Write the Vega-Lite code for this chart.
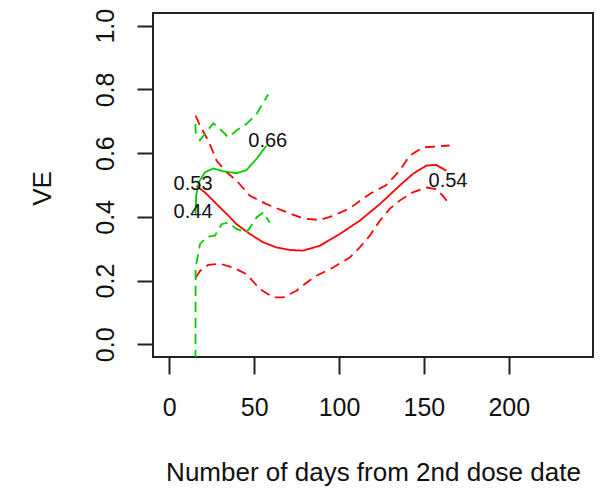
{
  "$schema": "https://vega.github.io/schema/vega-lite/v6.json",
  "width": 440,
  "height": 344,
  "autosize": {"type": "none"},
  "padding": {"left": 153, "top": 13, "right": 7, "bottom": 131},
  "background": "white",
  "config": {
    "view": {"stroke": "#222", "strokeWidth": 2},
    "font": "Liberation Sans"
  },
  "datasets": {
    "curves": [
      {"series": "red_fit", "cohort": "red", "type": "fit", "x": 16.0, "y": 0.497},
      {"series": "red_fit", "cohort": "red", "type": "fit", "x": 21, "y": 0.477},
      {"series": "red_fit", "cohort": "red", "type": "fit", "x": 27.9, "y": 0.440},
      {"series": "red_fit", "cohort": "red", "type": "fit", "x": 33.8, "y": 0.409},
      {"series": "red_fit", "cohort": "red", "type": "fit", "x": 39.6, "y": 0.377},
      {"series": "red_fit", "cohort": "red", "type": "fit", "x": 47.5, "y": 0.346},
      {"series": "red_fit", "cohort": "red", "type": "fit", "x": 55.3, "y": 0.320},
      {"series": "red_fit", "cohort": "red", "type": "fit", "x": 63.2, "y": 0.304},
      {"series": "red_fit", "cohort": "red", "type": "fit", "x": 71, "y": 0.296},
      {"series": "red_fit", "cohort": "red", "type": "fit", "x": 78.8, "y": 0.294},
      {"series": "red_fit", "cohort": "red", "type": "fit", "x": 88.6, "y": 0.309},
      {"series": "red_fit", "cohort": "red", "type": "fit", "x": 100.4, "y": 0.346},
      {"series": "red_fit", "cohort": "red", "type": "fit", "x": 112.2, "y": 0.388},
      {"series": "red_fit", "cohort": "red", "type": "fit", "x": 124, "y": 0.440},
      {"series": "red_fit", "cohort": "red", "type": "fit", "x": 135.7, "y": 0.498},
      {"series": "red_fit", "cohort": "red", "type": "fit", "x": 143.5, "y": 0.535},
      {"series": "red_fit", "cohort": "red", "type": "fit", "x": 151.4, "y": 0.561},
      {"series": "red_fit", "cohort": "red", "type": "fit", "x": 157.3, "y": 0.563},
      {"series": "red_fit", "cohort": "red", "type": "fit", "x": 163.2, "y": 0.545},
      {"series": "red_hi", "cohort": "red", "type": "ci", "x": 15.5, "y": 0.718},
      {"series": "red_hi", "cohort": "red", "type": "ci", "x": 18.1, "y": 0.686},
      {"series": "red_hi", "cohort": "red", "type": "ci", "x": 23, "y": 0.639},
      {"series": "red_hi", "cohort": "red", "type": "ci", "x": 27.9, "y": 0.576},
      {"series": "red_hi", "cohort": "red", "type": "ci", "x": 33.8, "y": 0.540},
      {"series": "red_hi", "cohort": "red", "type": "ci", "x": 39.6, "y": 0.514},
      {"series": "red_hi", "cohort": "red", "type": "ci", "x": 47.5, "y": 0.466},
      {"series": "red_hi", "cohort": "red", "type": "ci", "x": 57.3, "y": 0.440},
      {"series": "red_hi", "cohort": "red", "type": "ci", "x": 67.1, "y": 0.419},
      {"series": "red_hi", "cohort": "red", "type": "ci", "x": 78.8, "y": 0.395},
      {"series": "red_hi", "cohort": "red", "type": "ci", "x": 88.6, "y": 0.390},
      {"series": "red_hi", "cohort": "red", "type": "ci", "x": 96.5, "y": 0.403},
      {"series": "red_hi", "cohort": "red", "type": "ci", "x": 106.3, "y": 0.427},
      {"series": "red_hi", "cohort": "red", "type": "ci", "x": 118.1, "y": 0.472},
      {"series": "red_hi", "cohort": "red", "type": "ci", "x": 127.9, "y": 0.500},
      {"series": "red_hi", "cohort": "red", "type": "ci", "x": 135.7, "y": 0.545},
      {"series": "red_hi", "cohort": "red", "type": "ci", "x": 141.6, "y": 0.592},
      {"series": "red_hi", "cohort": "red", "type": "ci", "x": 149.4, "y": 0.618},
      {"series": "red_hi", "cohort": "red", "type": "ci", "x": 157.3, "y": 0.621},
      {"series": "red_hi", "cohort": "red", "type": "ci", "x": 165.1, "y": 0.624},
      {"series": "red_lo", "cohort": "red", "type": "ci", "x": 15.5, "y": 0.209},
      {"series": "red_lo", "cohort": "red", "type": "ci", "x": 18.1, "y": 0.230},
      {"series": "red_lo", "cohort": "red", "type": "ci", "x": 23, "y": 0.249},
      {"series": "red_lo", "cohort": "red", "type": "ci", "x": 29.8, "y": 0.253},
      {"series": "red_lo", "cohort": "red", "type": "ci", "x": 37.6, "y": 0.241},
      {"series": "red_lo", "cohort": "red", "type": "ci", "x": 45.5, "y": 0.220},
      {"series": "red_lo", "cohort": "red", "type": "ci", "x": 53.4, "y": 0.173},
      {"series": "red_lo", "cohort": "red", "type": "ci", "x": 61.2, "y": 0.147},
      {"series": "red_lo", "cohort": "red", "type": "ci", "x": 67.1, "y": 0.147},
      {"series": "red_lo", "cohort": "red", "type": "ci", "x": 74.9, "y": 0.168},
      {"series": "red_lo", "cohort": "red", "type": "ci", "x": 81.8, "y": 0.197},
      {"series": "red_lo", "cohort": "red", "type": "ci", "x": 86.7, "y": 0.215},
      {"series": "red_lo", "cohort": "red", "type": "ci", "x": 96.5, "y": 0.241},
      {"series": "red_lo", "cohort": "red", "type": "ci", "x": 106.3, "y": 0.272},
      {"series": "red_lo", "cohort": "red", "type": "ci", "x": 112.2, "y": 0.304},
      {"series": "red_lo", "cohort": "red", "type": "ci", "x": 118.1, "y": 0.341},
      {"series": "red_lo", "cohort": "red", "type": "ci", "x": 124, "y": 0.388},
      {"series": "red_lo", "cohort": "red", "type": "ci", "x": 129.8, "y": 0.425},
      {"series": "red_lo", "cohort": "red", "type": "ci", "x": 135.7, "y": 0.451},
      {"series": "red_lo", "cohort": "red", "type": "ci", "x": 143.5, "y": 0.477},
      {"series": "red_lo", "cohort": "red", "type": "ci", "x": 151.4, "y": 0.492},
      {"series": "red_lo", "cohort": "red", "type": "ci", "x": 157.3, "y": 0.487},
      {"series": "red_lo", "cohort": "red", "type": "ci", "x": 161.2, "y": 0.466},
      {"series": "red_lo", "cohort": "red", "type": "ci", "x": 164.2, "y": 0.445},
      {"series": "green_fit", "cohort": "green", "type": "fit", "x": 15.5, "y": 0.41},
      {"series": "green_fit", "cohort": "green", "type": "fit", "x": 15.9, "y": 0.47},
      {"series": "green_fit", "cohort": "green", "type": "fit", "x": 17.5, "y": 0.51},
      {"series": "green_fit", "cohort": "green", "type": "fit", "x": 21, "y": 0.540},
      {"series": "green_fit", "cohort": "green", "type": "fit", "x": 25.9, "y": 0.552},
      {"series": "green_fit", "cohort": "green", "type": "fit", "x": 31.8, "y": 0.543},
      {"series": "green_fit", "cohort": "green", "type": "fit", "x": 39.6, "y": 0.537},
      {"series": "green_fit", "cohort": "green", "type": "fit", "x": 45.5, "y": 0.547},
      {"series": "green_fit", "cohort": "green", "type": "fit", "x": 51.4, "y": 0.582},
      {"series": "green_fit", "cohort": "green", "type": "fit", "x": 57.3, "y": 0.624},
      {"series": "green_hi", "cohort": "green", "type": "ci", "x": 15.4, "y": 0.692},
      {"series": "green_hi", "cohort": "green", "type": "ci", "x": 15.5, "y": 0.665},
      {"series": "green_hi", "cohort": "green", "type": "ci", "x": 18.1, "y": 0.641},
      {"series": "green_hi", "cohort": "green", "type": "ci", "x": 21, "y": 0.660},
      {"series": "green_hi", "cohort": "green", "type": "ci", "x": 25.9, "y": 0.694},
      {"series": "green_hi", "cohort": "green", "type": "ci", "x": 29.8, "y": 0.676},
      {"series": "green_hi", "cohort": "green", "type": "ci", "x": 34.7, "y": 0.650},
      {"series": "green_hi", "cohort": "green", "type": "ci", "x": 39.6, "y": 0.671},
      {"series": "green_hi", "cohort": "green", "type": "ci", "x": 45.5, "y": 0.692},
      {"series": "green_hi", "cohort": "green", "type": "ci", "x": 51.4, "y": 0.723},
      {"series": "green_hi", "cohort": "green", "type": "ci", "x": 58.2, "y": 0.784},
      {"series": "green_lo", "cohort": "green", "type": "ci", "x": 15.4, "y": -0.1},
      {"series": "green_lo", "cohort": "green", "type": "ci", "x": 15.5, "y": 0.241},
      {"series": "green_lo", "cohort": "green", "type": "ci", "x": 18.1, "y": 0.314},
      {"series": "green_lo", "cohort": "green", "type": "ci", "x": 22, "y": 0.337},
      {"series": "green_lo", "cohort": "green", "type": "ci", "x": 26.9, "y": 0.341},
      {"series": "green_lo", "cohort": "green", "type": "ci", "x": 30.8, "y": 0.377},
      {"series": "green_lo", "cohort": "green", "type": "ci", "x": 34.7, "y": 0.382},
      {"series": "green_lo", "cohort": "green", "type": "ci", "x": 39.6, "y": 0.362},
      {"series": "green_lo", "cohort": "green", "type": "ci", "x": 45.5, "y": 0.351},
      {"series": "green_lo", "cohort": "green", "type": "ci", "x": 51.4, "y": 0.398},
      {"series": "green_lo", "cohort": "green", "type": "ci", "x": 55.3, "y": 0.414},
      {"series": "green_lo", "cohort": "green", "type": "ci", "x": 59.2, "y": 0.382}
    ],
    "labels": [
      {"x": 14, "y": 0.503, "label": "0.53"},
      {"x": 14, "y": 0.414, "label": "0.44"},
      {"x": 58, "y": 0.637, "label": "0.66"},
      {"x": 164.2, "y": 0.514, "label": "0.54"}
    ]
  },
  "layer": [
    {
      "data": {"name": "curves"},
      "mark": {"type": "line", "clip": true, "strokeWidth": 1.8},
      "encoding": {
        "x": {
          "field": "x", "type": "quantitative",
          "scale": {"domain": [-9.6, 249.6], "nice": false, "zero": false},
          "axis": {
            "values": [0, 50, 100, 150, 200],
            "domain": false, "grid": false,
            "tickSize": 17, "tickWidth": 2, "tickColor": "#222",
            "labelFontSize": 25, "labelColor": "#111", "labelFont": "Liberation Sans",
            "labelBaseline": "middle", "labelPadding": 33, "labelFlush": false,
            "title": "Number of days from 2nd dose date",
            "titleFontSize": 26, "titleFontWeight": "normal", "titleColor": "#111",
            "titleFont": "Liberation Sans",
            "titleY": 115, "titleBaseline": "middle"
          }
        },
        "y": {
          "field": "y", "type": "quantitative",
          "scale": {"domain": [-0.04, 1.04], "nice": false, "zero": false},
          "axis": {
            "values": [0, 0.2, 0.4, 0.6, 0.8, 1.0],
            "format": ".1f",
            "domain": false, "grid": false,
            "tickSize": 16, "tickWidth": 2, "tickColor": "#222",
            "labelFontSize": 25, "labelColor": "#111", "labelFont": "Liberation Sans",
            "labelAngle": -90, "labelAlign": "center", "labelBaseline": "middle",
            "labelPadding": 32, "labelFlush": false,
            "title": "VE",
            "titleFontSize": 26, "titleFontWeight": "normal", "titleColor": "#111",
            "titleFont": "Liberation Sans",
            "titleX": -111, "titleY": 175, "titleBaseline": "middle", "titleAngle": -90
          }
        },
        "color": {
          "field": "cohort", "type": "nominal",
          "scale": {"domain": ["red", "green"], "range": ["#FF0000", "#00CD00"]},
          "legend": null
        },
        "strokeDash": {
          "field": "type", "type": "nominal",
          "scale": {"domain": ["fit", "ci"], "range": [[1, 0], [10, 6]]},
          "legend": null
        },
        "detail": {"field": "series", "type": "nominal"}
      }
    },
    {
      "data": {"name": "labels"},
      "mark": {"type": "text", "fontSize": 20, "font": "Liberation Sans", "color": "#111", "align": "center", "baseline": "middle"},
      "encoding": {
        "x": {"field": "x", "type": "quantitative"},
        "y": {"field": "y", "type": "quantitative"},
        "text": {"field": "label"}
      }
    }
  ]
}
